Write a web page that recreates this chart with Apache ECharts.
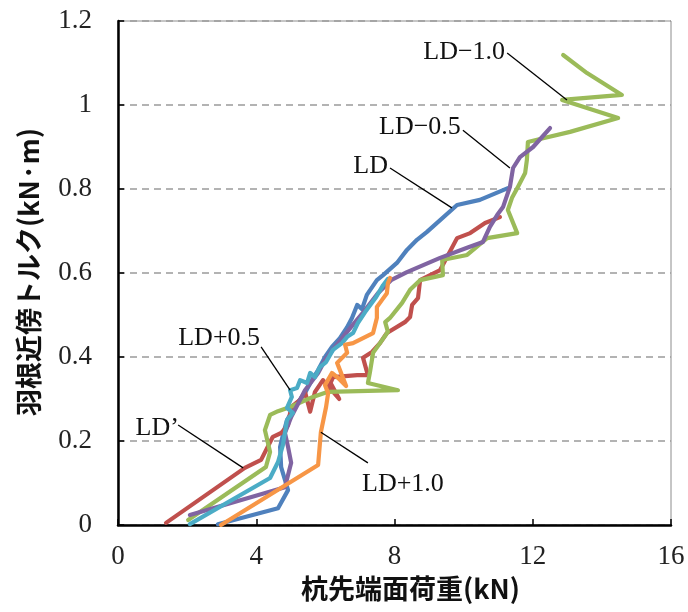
<!DOCTYPE html>
<html>
<head>
<meta charset="utf-8">
<script src="https://cdn.jsdelivr.net/npm/echarts@6/dist/echarts.min.js"></script>
<style>
  html, body { margin: 0; padding: 0; background: #fff; }
  #chart { width: 688px; height: 612px; }
</style>
</head>
<body>
<div id="chart"></div>
<script>
// 杭先端面荷重 (kN) vs 羽根近傍トルク (kN·m) for each test case
const seriesNames = ['LD', 'LD’', 'LD−1.0', 'LD−0.5', 'LD+0.5', 'LD+1.0'];
const seriesColors = ['#4F81BD', '#C0504D', '#9BBB59', '#8064A2', '#4BACC6', '#F79646'];

const loadTorqueLD = [
  [2.89, 0.002], [4.63, 0.040], [4.92, 0.083], [4.72, 0.138], [4.69, 0.186], [4.77, 0.214],
  [4.89, 0.250], [5.15, 0.286], [5.41, 0.314], [5.61, 0.345], [5.79, 0.369], [5.99, 0.400],
  [6.19, 0.424], [6.42, 0.445], [6.63, 0.471], [6.77, 0.493], [6.92, 0.524], [7.06, 0.514],
  [7.20, 0.548], [7.49, 0.583], [7.67, 0.595], [8.07, 0.624], [8.36, 0.655], [8.65, 0.679],
  [8.94, 0.698], [9.81, 0.762], [10.47, 0.774], [11.28, 0.802]
];

const loadTorqueLDp = [
  [1.39, 0.005], [3.67, 0.136], [4.14, 0.155], [4.48, 0.210], [4.72, 0.219], [4.92, 0.238],
  [5.01, 0.281], [5.27, 0.298], [5.41, 0.317], [5.56, 0.270], [5.70, 0.317], [5.93, 0.345],
  [6.40, 0.300], [6.15, 0.338], [6.22, 0.352], [6.92, 0.357], [7.23, 0.357], [7.09, 0.398],
  [7.35, 0.412], [7.58, 0.433], [7.78, 0.457], [8.30, 0.483], [8.45, 0.495], [8.51, 0.524],
  [8.68, 0.540], [8.74, 0.583], [9.32, 0.607], [9.52, 0.638], [9.81, 0.683], [10.19, 0.695],
  [10.62, 0.719], [11.05, 0.733]
];

const loadTorqueLDm10 = [
  [2.03, 0.012], [4.28, 0.138], [4.40, 0.174], [4.25, 0.226], [4.40, 0.262], [4.63, 0.271],
  [4.98, 0.281], [5.64, 0.305], [6.08, 0.317], [8.10, 0.321], [7.23, 0.338], [7.29, 0.364],
  [7.38, 0.410], [7.58, 0.433], [7.81, 0.460], [7.73, 0.483], [7.87, 0.493], [8.22, 0.529],
  [8.45, 0.560], [8.74, 0.583], [9.40, 0.595], [9.38, 0.631], [10.10, 0.643], [10.68, 0.683],
  [11.55, 0.695], [11.28, 0.750], [11.40, 0.779], [11.57, 0.805], [11.78, 0.838], [11.83, 0.869],
  [11.86, 0.912], [12.30, 0.921], [13.08, 0.936], [14.47, 0.969], [12.85, 1.012], [14.58, 1.024],
  [13.57, 1.076], [12.88, 1.119]
];

const loadTorqueLDm05 = [
  [2.08, 0.024], [4.83, 0.090], [5.01, 0.148], [4.92, 0.186], [4.83, 0.219], [5.01, 0.257],
  [5.27, 0.298], [5.41, 0.321], [5.79, 0.362], [5.99, 0.393], [6.28, 0.424], [6.74, 0.471],
  [7.15, 0.512], [7.52, 0.552], [7.90, 0.583], [8.36, 0.602], [9.32, 0.636], [10.10, 0.660],
  [10.56, 0.674], [10.76, 0.710], [10.97, 0.738], [11.14, 0.757], [11.34, 0.805], [11.43, 0.850],
  [11.63, 0.876], [12.01, 0.900], [12.50, 0.945]
];

const loadTorqueLDp05 = [
  [2.08, 0.002], [4.40, 0.112], [4.63, 0.150], [4.77, 0.190], [4.89, 0.250], [5.06, 0.267],
  [4.89, 0.279], [5.03, 0.305], [4.98, 0.321], [5.18, 0.326], [5.27, 0.345], [5.47, 0.338],
  [5.56, 0.362], [5.70, 0.352], [5.84, 0.376], [6.02, 0.388], [6.22, 0.417], [6.48, 0.433],
  [6.63, 0.448], [6.80, 0.457], [6.94, 0.481], [7.15, 0.507], [7.47, 0.543], [7.67, 0.571],
  [7.81, 0.586]
];

const loadTorqueLDp10 = [
  [2.98, 0.000], [5.79, 0.143], [5.87, 0.221], [6.02, 0.281], [6.08, 0.314], [5.99, 0.333],
  [6.19, 0.362], [6.37, 0.350], [6.60, 0.331], [6.34, 0.386], [6.63, 0.410], [6.57, 0.429],
  [6.80, 0.433], [7.09, 0.445], [7.38, 0.457], [7.49, 0.493], [7.49, 0.519], [7.64, 0.536],
  [7.78, 0.552], [7.81, 0.576], [7.87, 0.588]
];

const seriesData = [loadTorqueLD, loadTorqueLDp, loadTorqueLDm10, loadTorqueLDm05, loadTorqueLDp05, loadTorqueLDp10];

const xTickLabels = ['0', '4', '8', '12', '16'];
const yTickLabels = ['0', '0.2', '0.4', '0.6', '0.8', '1', '1.2'];

// Callout for each curve: text anchor, text alignment, leader line start and end (data units)
const calloutAnchors = [[7.81, 0.855], [1.76, 0.231], [11.20, 1.126], [9.92, 0.948], [4.11, 0.445], [7.06, 0.098]];
const calloutAlign = ['right', 'right', 'right', 'right', 'right', 'left'];
const leaderFrom = [[7.87, 0.850], [1.74, 0.238], [11.26, 1.124], [9.98, 0.940], [4.14, 0.424], [5.87, 0.221]];
const leaderTo = [[9.66, 0.755], [3.62, 0.136], [12.99, 1.012], [11.34, 0.850], [4.98, 0.321], [7.23, 0.148]];

const serif = '"Liberation Serif", "DejaVu Serif", serif';
const gothic = '"Noto Sans CJK JP", "Noto Sans", sans-serif';

const chart = echarts.init(document.getElementById('chart'), null, { renderer: 'canvas' });

chart.setOption({
  animation: false,
  backgroundColor: '#ffffff',
  grid: {
    left: 118, right: 17, top: 21, bottom: 87,
    containLabel: false, outerBoundsMode: 'none',
    show: true, borderColor: '#8c8c8c', borderWidth: 1, backgroundColor: 'transparent'
  },
  xAxis: {
    type: 'value', min: 0, max: 16, interval: 4,
    name: '杭先端面荷重(kN)', nameLocation: 'middle', nameGap: 50,
    nameTextStyle: { fontFamily: gothic, fontSize: 27, fontWeight: 'bold', color: '#111', padding: [0, 0, 0, 32] },
    axisLine: { show: true, onZero: false, lineStyle: { color: '#000', width: 2.5 } },
    axisTick: { show: true, inside: true, length: 6, lineStyle: { color: '#000', width: 1.5 } },
    axisLabel: {
      margin: 18, fontFamily: serif, fontSize: 27, color: '#222',
      formatter: (v, i) => xTickLabels[i]
    },
    splitLine: { show: false }
  },
  yAxis: {
    type: 'value', min: 0, max: 1.2, interval: 0.2,
    name: '羽根近傍トルク(kN·m)', nameLocation: 'middle', nameGap: 76,
    nameTextStyle: { fontFamily: gothic, fontSize: 27, fontWeight: 'bold', color: '#111', padding: [0, 22, 0, 24] },
    axisLine: { show: true, onZero: false, lineStyle: { color: '#000', width: 2.5 } },
    axisTick: { show: true, inside: true, length: 6, lineStyle: { color: '#000', width: 1.5 } },
    axisLabel: {
      margin: 26, fontFamily: serif, fontSize: 27, color: '#222',
      formatter: (v, i) => yTickLabels[i]
    },
    splitLine: { show: true, lineStyle: { color: '#9a9a9a', width: 1.5, type: [7, 5] } }
  },
  series: seriesNames.map((name, i) => ({
    name: name,
    type: 'line',
    data: seriesData[i],
    showSymbol: false,
    symbol: 'none',
    smooth: false,
    lineStyle: { color: seriesColors[i], width: 4.2, join: 'round', cap: 'round' },
    z: 2 + i
  }))
});

// Callout texts and leader lines placed through the grid's coordinate system
const graphics = [];
seriesNames.forEach((name, i) => {
  const a = chart.convertToPixel({ gridIndex: 0 }, calloutAnchors[i]);
  const p1 = chart.convertToPixel({ gridIndex: 0 }, leaderFrom[i]);
  const p2 = chart.convertToPixel({ gridIndex: 0 }, leaderTo[i]);
  graphics.push({
    type: 'line', z: 50,
    shape: { x1: p1[0], y1: p1[1], x2: p2[0], y2: p2[1] },
    style: { stroke: '#000', lineWidth: 1.3 }
  });
  graphics.push({
    type: 'text', z: 51,
    x: a[0], y: a[1],
    style: {
      text: name, fontFamily: serif, fontSize: 26, fill: '#111',
      align: calloutAlign[i], verticalAlign: 'middle',
      backgroundColor: 'transparent'
    }
  });
});
chart.setOption({ graphic: graphics });
</script>
</body>
</html>
